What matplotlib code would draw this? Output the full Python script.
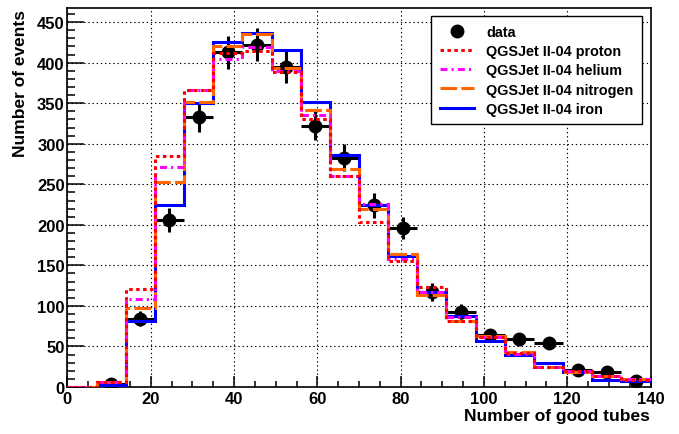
import matplotlib
matplotlib.use("Agg")
import matplotlib.pyplot as plt
from matplotlib.lines import Line2D
from matplotlib.ticker import MultipleLocator
import numpy as np

plt.rcParams['font.family'] = ['Liberation Sans', 'DejaVu Sans']
plt.rcParams['font.weight'] = 'bold'
plt.rcParams['lines.scale_dashes'] = False

# bin edges of the "good tubes" histogram
edges = [0, 7, 14, 21, 28, 35, 42, 49, 56, 63, 70, 77, 84, 91, 98, 105, 112, 119, 126, 133, 140]

# simulated distributions (one value per bin)
proton   = [0, 6, 121, 285, 366, 412, 414, 389, 331, 260, 203, 156, 123, 81, 62, 42, 25, 20, 13, 9]
helium   = [0, 6, 109, 271, 366, 404, 419, 390, 335, 260, 226, 158, 117, 86, 62, 41, 25, 20, 13, 10]
nitrogen = [0, 6, 98, 253, 352, 421, 435, 393, 341, 269, 220, 164, 114, 81, 63, 43, 25, 19, 13, 10]
iron     = [0, 2, 82, 225, 350, 426, 437, 415, 351, 286, 224, 162, 117, 87, 57, 39, 30, 19, 9, 7]

# measured data (bin centres and counts)
data_x = [10.5, 17.5, 24.5, 31.5, 38.5, 45.5, 52.5, 59.5, 66.5, 73.5,
          80.5, 87.5, 94.5, 101.5, 108.5, 115.5, 122.5, 129.5, 136.5]
data_y = [4, 84, 206, 333, 413, 422, 395, 322, 283, 224,
          196, 117, 93, 64, 59, 54, 21, 19, 8]

fig = plt.figure(figsize=(6.79, 4.35), dpi=100)
ax = fig.add_axes([0.0993, 0.108, 0.8588, 0.8706])

dy = np.sqrt(np.array(data_y, dtype=float))
ax.errorbar(data_x, data_y, xerr=3.5, yerr=dy, fmt='o', color='black',
            markersize=9, elinewidth=2.2, capsize=0, zorder=3)

lw = 2.2
ax.stairs(iron, edges, baseline=None, color='#0000ff', lw=lw, zorder=4)
ax.stairs(nitrogen, edges, baseline=None, color='#ff6600', lw=lw,
          linestyle=(0, (12, 3)), zorder=5)
ax.stairs(helium, edges, baseline=None, color='#ff00ff', lw=lw,
          linestyle=(0, (5, 3, 1.5, 3)), zorder=6)
ax.stairs(proton, edges, baseline=None, color='#ff0000', lw=lw,
          linestyle=(0, (2.5, 2.5)), zorder=7)

ax.set_xlim(0, 140)
ax.set_ylim(0, 467)
ax.xaxis.set_major_locator(MultipleLocator(20))
ax.xaxis.set_minor_locator(MultipleLocator(5))
ax.yaxis.set_major_locator(MultipleLocator(50))
ax.yaxis.set_minor_locator(MultipleLocator(10))
ax.tick_params(axis='both', which='both', direction='in', top=False, right=False,
               width=1.1, labelsize=12)
ax.tick_params(axis='x', which='major', length=8.2, pad=3)
ax.tick_params(axis='x', which='minor', length=4.1)
ax.tick_params(axis='y', which='major', length=12.2, pad=2)
ax.tick_params(axis='y', which='minor', length=6)
ax.grid(True, which='major', color='black', linestyle=(0, (1, 2)), lw=0.8)
ax.set_axisbelow(True)
for s in ax.spines.values():
    s.set_linewidth(1.2)

fig.text(20.5 / 679, 1 - 10 / 435, 'Number of events', rotation=90,
         ha='center', va='top', fontsize=12.5)
fig.text(650 / 679, 1 - 416.5 / 435, 'Number of good tubes',
         ha='right', va='center', fontsize=12.5)

handles = [
    Line2D([], [], marker='o', ls='none', color='black', markersize=9),
    Line2D([], [], color='#ff0000', lw=lw, linestyle=(0, (2.5, 2.5))),
    Line2D([], [], color='#ff00ff', lw=lw, linestyle=(0, (5, 3, 1.5, 3))),
    Line2D([], [], color='#ff6600', lw=lw, linestyle=(0, (12, 3))),
    Line2D([], [], color='#0000ff', lw=lw),
]
labels = ['data', 'QGSJet II-04 proton', 'QGSJet II-04 helium',
          'QGSJet II-04 nitrogen', 'QGSJet II-04 iron']
leg = ax.legend(handles, labels, loc='upper right', bbox_to_anchor=(0.985, 0.979),
                borderaxespad=0, fontsize=10.4, fancybox=False, framealpha=1,
                edgecolor='black', handlelength=2.4, handletextpad=0.8,
                labelspacing=0.36, borderpad=0.6)
leg.get_frame().set_linewidth(1.0)
leg.set_zorder(10)

fig.savefig('out.png', dpi=100)
